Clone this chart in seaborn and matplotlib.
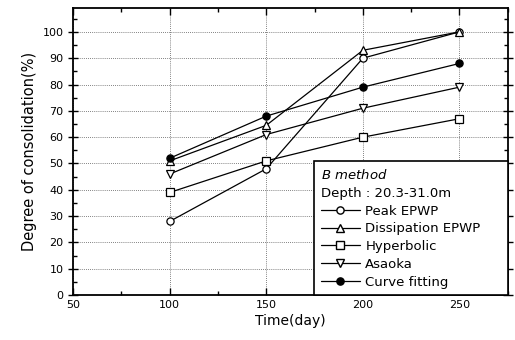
import matplotlib
matplotlib.use("Agg")
import matplotlib.pyplot as plt
import seaborn as sns
import pandas as pd
from matplotlib.lines import Line2D
from matplotlib.ticker import MultipleLocator

time_days = [100, 150, 200, 250]
peak_epwp = [28, 48, 90, 100]
dissipation_epwp = [51, 64.5, 93, 100]
hyperbolic = [39, 51, 60, 67]
asaoka = [46, 61, 71, 79]
curve_fitting = [52, 68, 79, 88]

series_names = ["Peak EPWP", "Dissipation EPWP", "Hyperbolic", "Asaoka", "Curve fitting"]
series_values = [peak_epwp, dissipation_epwp, hyperbolic, asaoka, curve_fitting]
markers = ["o", "^", "s", "v", "o"]
facecolors = ["white", "white", "white", "white", "black"]

sns.set_theme(style="ticks")
plt.rcParams['font.family'] = ['DejaVu Sans']
plt.rcParams['mathtext.fontset'] = 'dejavusans'
plt.rcParams['text.color'] = 'black'
plt.rcParams['axes.labelcolor'] = 'black'

fig, ax = plt.subplots(figsize=(5.15, 3.4), dpi=100)
fig.subplots_adjust(left=0.142, right=0.986, top=0.976, bottom=0.132)

MS = 5.2
for name, vals, m, fc in zip(series_names, series_values, markers, facecolors):
    df = pd.DataFrame({"Time": time_days, "Degree": vals})
    sns.lineplot(data=df, x="Time", y="Degree", ax=ax, color="black", lw=0.9,
                 marker=m, markersize=MS, markerfacecolor=fc, markeredgecolor="black",
                 markeredgewidth=0.9, zorder=3)

ax.set_xlim(50, 275)
ax.set_ylim(0, 109)
ax.xaxis.set_major_locator(MultipleLocator(50))
ax.xaxis.set_minor_locator(MultipleLocator(25))
ax.yaxis.set_major_locator(MultipleLocator(10))
ax.yaxis.set_minor_locator(MultipleLocator(5))
ax.tick_params(which="both", direction="in", top=True, right=True, colors="black",
               labelsize=8, width=1.0)
ax.tick_params(axis="y", which="major", direction="inout", length=7)
ax.tick_params(axis="x", which="major", length=5)
ax.tick_params(which="minor", length=3)
ax.grid(True, which="major", linestyle=(0, (1, 1.5)), color="0.35", lw=0.6)
for s in ax.spines.values():
    s.set_linewidth(1.3)
    s.set_color("black")

ax.set_xlabel("Time(day)", fontsize=10, labelpad=3, color="black")
ax.set_ylabel("Degree of consolidation(%)", fontsize=10.5, labelpad=4, color="black")

handles = []
for name, m, fc in zip(series_names, markers, facecolors):
    handles.append(Line2D([0], [0], color="black", lw=0.9, marker=m, markersize=MS,
                          markerfacecolor=fc, markeredgecolor="black", label=name))
title = r"$\it{B\ method}$" + "\n" + "Depth : 20.3-31.0m"
leg = ax.legend(handles=handles, title=title, loc="lower left",
                bbox_to_anchor=(0.554, 0.0, 0.446, 0.47), mode="expand",
                borderaxespad=0, fancybox=False, framealpha=1, edgecolor="black",
                fontsize=9.5, title_fontsize=9.5, handlelength=3.0, handletextpad=0.4,
                labelspacing=0.36, borderpad=0.5)
leg._legend_box.align = "left"
leg.get_frame().set_linewidth(1.2)
for t in leg.get_texts():
    t.set_color("black")
leg.get_title().set_color("black")
leg.get_title().set_linespacing(1.5)

fig.savefig("out.png", dpi=100)
